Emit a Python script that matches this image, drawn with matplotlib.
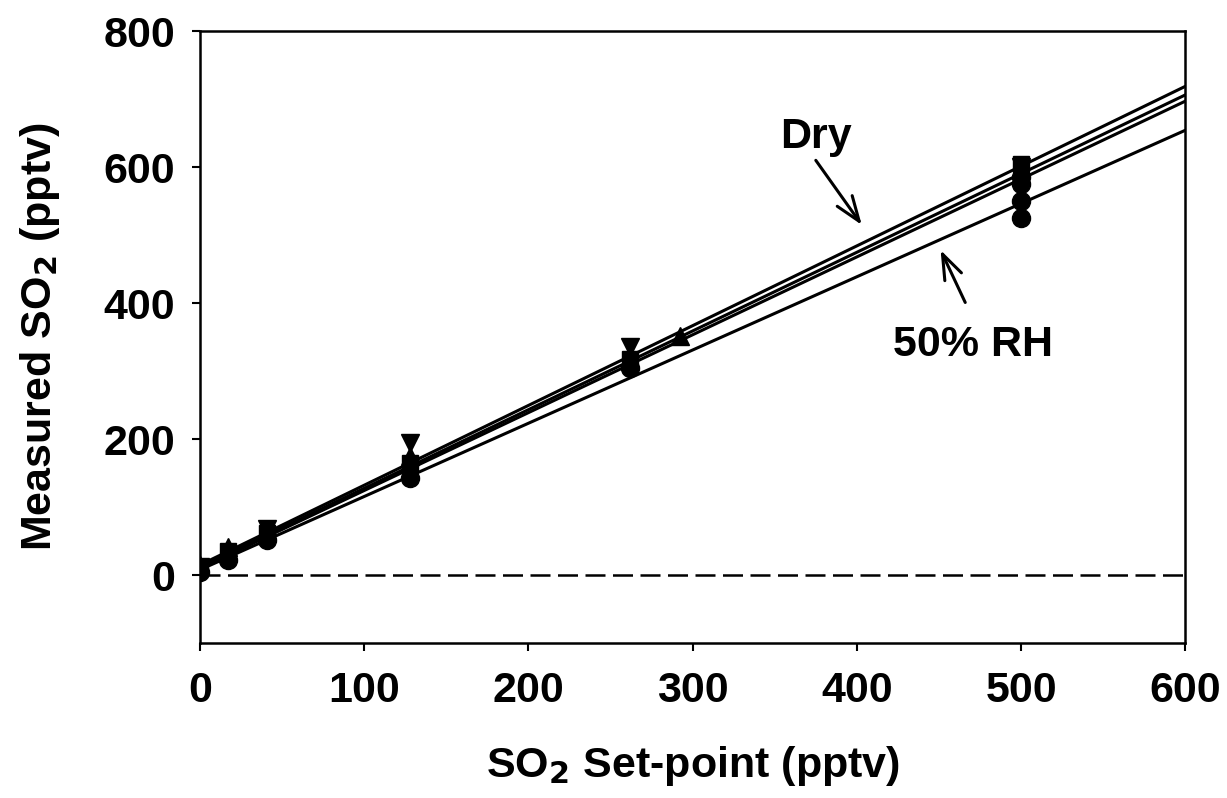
import matplotlib
matplotlib.use("Agg")
import matplotlib.pyplot as plt
import numpy as np

plt.rcParams['font.family'] = ['Liberation Sans', 'DejaVu Sans']
plt.rcParams['font.weight'] = 'bold'
plt.rcParams['mathtext.default'] = 'bf'

# Data series (set-point, measured)
dn_x = [0, 41, 128, 262, 500]
dn_y = [12, 68, 195, 335, 600]
up_x = [0, 17, 128, 292, 500]
up_y = [15, 42, 175, 352, 590]
sq_x = [0, 17, 41, 128, 262, 500]
sq_y = [10, 35, 62, 165, 318, 605]
ci_x = [0, 17, 41, 128, 262, 500, 500, 500, 500]
ci_y = [5, 22, 52, 143, 305, 525, 550, 575, 585]

# Fit lines (intercept, slope)
fit_int = [15, 12, 10, 8]
fit_slope = [1.173, 1.157, 1.145, 1.077]

fig = plt.figure(figsize=(12.27, 7.98), dpi=100)
ax = fig.add_axes([0.163, 0.194, 0.803, 0.767])

xx = np.array([0, 600])
for b, m in zip(fit_int, fit_slope):
    ax.plot(xx, b + m * xx, color='black', lw=2.2, zorder=2)

ax.axhline(0, color='black', lw=1.8, ls=(0, (8, 3)), zorder=1)

ms = 13
ax.plot(ci_x, ci_y, 'o', color='black', ms=ms, ls='none', zorder=3)
ax.plot(sq_x, sq_y, 's', color='black', ms=ms-2, ls='none', zorder=3)
ax.plot(up_x, up_y, '^', color='black', ms=ms, ls='none', zorder=3)
ax.plot(dn_x, dn_y, 'v', color='black', ms=ms, ls='none', zorder=3)

ax.set_xlim(0, 600)
ax.set_ylim(-100, 800)
ax.set_xticks(range(0, 601, 100))
ax.set_yticks(range(0, 801, 200))
ax.tick_params(direction='out', length=6, width=1.5, labelsize=31)
ax.tick_params(axis='x', pad=14)
ax.tick_params(axis='y', pad=12)
for sp in ax.spines.values():
    sp.set_linewidth(1.8)

ax.set_xlabel('SO$_2$ Set-point (pptv)', fontsize=31, fontweight='bold', labelpad=24)
ax.set_ylabel('Measured SO$_2$ (pptv)', fontsize=31, fontweight='bold', labelpad=30)

arrow_kw = dict(arrowstyle='->,head_length=0.6,head_width=0.22', lw=2.2,
                color='black', mutation_scale=30, shrinkA=0, shrinkB=0)
ax.text(353, 645, 'Dry', fontsize=31, fontweight='bold', ha='left', va='center')
ax.annotate('', xy=(403, 515), xytext=(375, 610), arrowprops=arrow_kw)
ax.text(422, 338, '50% RH', fontsize=31, fontweight='bold', ha='left', va='center')
ax.annotate('', xy=(451, 478), xytext=(466, 401), arrowprops=arrow_kw)

fig.savefig('out.png', dpi=100)
